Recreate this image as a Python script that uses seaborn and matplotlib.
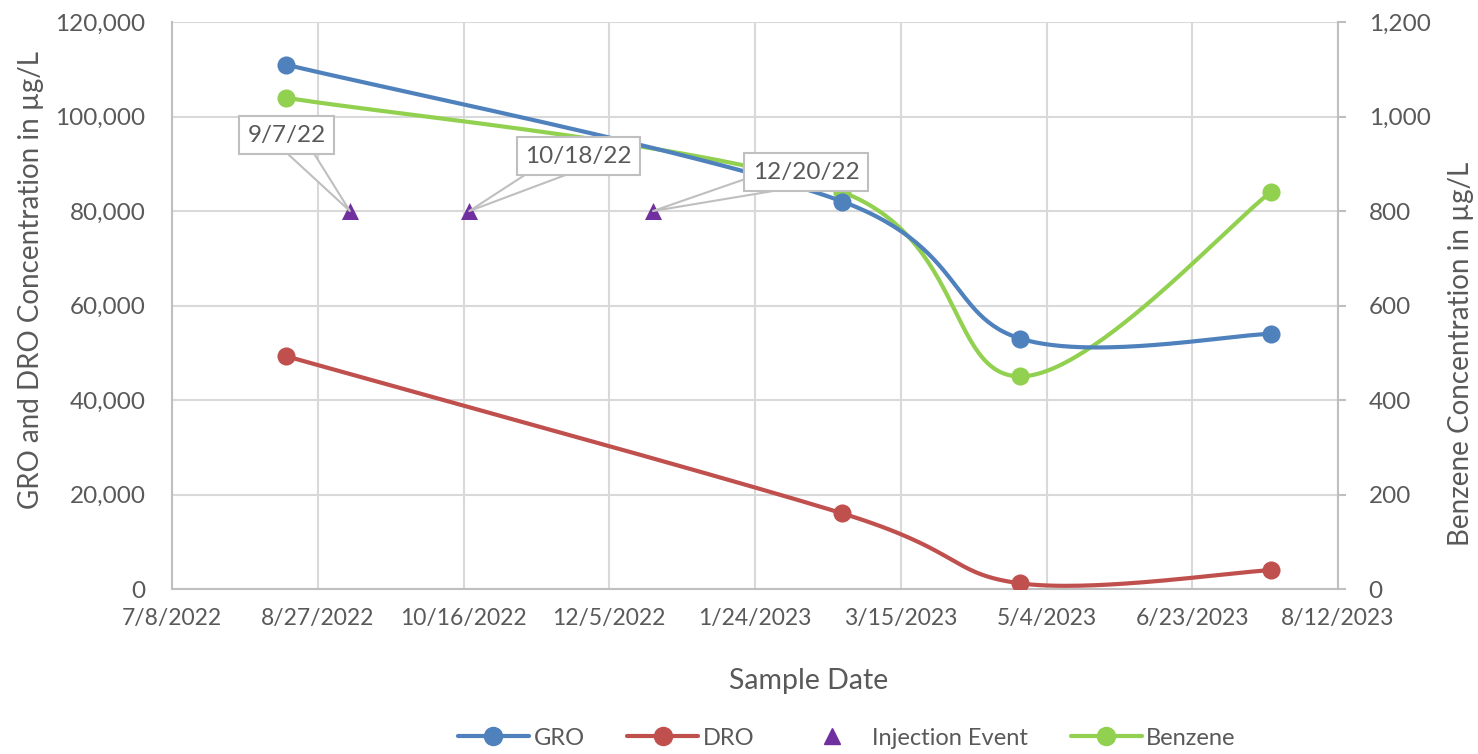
import numpy as np
import pandas as pd
import matplotlib
matplotlib.use("Agg")
import matplotlib.pyplot as plt
import matplotlib.dates as mdates
from matplotlib.ticker import FuncFormatter, FixedLocator
from matplotlib.lines import Line2D
import seaborn as sns

# ---- data ----
sample_dates = ["2022-08-16", "2023-02-23", "2023-04-25", "2023-07-20"]
gro = [111000, 82000, 53000, 54000]
dro = [49300, 16000, 1200, 4000]
benzene = [1040, 840, 450, 840]

injection_dates = ["2022-09-07", "2022-10-18", "2022-12-20"]
injection_level = [80000, 80000, 80000]
injection_labels = ["9/7/22", "10/18/22", "12/20/22"]

tick_dates = pd.date_range("2022-07-08", periods=9, freq="50D")

# ---- style ----
sns.set_theme(style="white")
plt.rcParams["font.family"] = ["Lato", "DejaVu Sans"]

C_GRO = "#4F81BD"
C_DRO = "#C0504D"
C_BNZ = "#92D050"
C_INJ = "#7030A0"
TXT = "#595959"
GRID = "#d9d9d9"
AXIS = "#bfbfbf"

x_samples = mdates.date2num(pd.to_datetime(sample_dates).to_pydatetime())
x_inj = mdates.date2num(pd.to_datetime(injection_dates).to_pydatetime())
x_ticks = mdates.date2num(tick_dates.to_pydatetime())

fig = plt.figure(figsize=(14.78, 7.54), dpi=100)
fig.subplots_adjust(left=0.1164, right=0.9053, top=0.9708, bottom=0.2188)
ax = fig.add_subplot(111)
ax2 = ax.twinx()

# GRO/DRO axis sits above the benzene axis; the benzene axis carries the grid
ax.set_zorder(ax2.get_zorder() + 1)
ax.patch.set_visible(False)

ax.set_xlim(x_ticks[0], x_ticks[-1])
ax.set_ylim(0, 120000)
ax2.set_ylim(0, 1200)


def smooth_curve(axis, xs, ys, n=60):
    """Cubic Bezier smoothing (Catmull-Rom style) computed in display space."""
    pts = axis.transData.transform(np.column_stack([xs, ys]))
    P = np.vstack([pts[0], pts, pts[-1]])
    segs = []
    t = np.linspace(0, 1, n)[:, None]
    for i in range(1, len(P) - 2):
        p0, p1, p2, p3 = P[i - 1], P[i], P[i + 1], P[i + 2]
        c1 = p1 + (p2 - p0) / 6.0
        c2 = p2 - (p3 - p1) / 6.0
        seg = ((1 - t) ** 3) * p1 + 3 * ((1 - t) ** 2) * t * c1 \
            + 3 * (1 - t) * (t ** 2) * c2 + (t ** 3) * p2
        segs.append(seg if i == 1 else seg[1:])
    curve = np.vstack(segs)
    out = axis.transData.inverted().transform(curve)
    return out[:, 0], out[:, 1]


LW = 3.0
MS = 170

# primary axis series
for vals, col in [(gro, C_GRO), (dro, C_DRO)]:
    cx, cy = smooth_curve(ax, x_samples, vals)
    sns.lineplot(x=cx, y=cy, sort=False, estimator=None, color=col,
                 linewidth=LW, ax=ax, zorder=3, legend=False)
    sns.scatterplot(x=x_samples, y=vals, color=col, s=MS, linewidth=0,
                    ax=ax, zorder=4, legend=False)

sns.scatterplot(x=x_inj, y=injection_level, marker="^", color=C_INJ, s=150,
                linewidth=0, ax=ax, zorder=4, legend=False)

# secondary axis series
cx, cy = smooth_curve(ax2, x_samples, benzene)
sns.lineplot(x=cx, y=cy, sort=False, estimator=None, color=C_BNZ,
             linewidth=LW, ax=ax2, zorder=3, legend=False)
sns.scatterplot(x=x_samples, y=benzene, color=C_BNZ, s=MS, linewidth=0,
                ax=ax2, zorder=4, legend=False)

# limits again (seaborn may autoscale)
ax.set_xlim(x_ticks[0], x_ticks[-1])
ax.set_ylim(0, 120000)
ax2.set_ylim(0, 1200)

# ticks & grid
ax.xaxis.set_major_locator(FixedLocator(x_ticks))
ax.xaxis.set_major_formatter(FuncFormatter(
    lambda v, p: (lambda d: f"{d.month}/{d.day}/{d.year}")(mdates.num2date(v))))
ax.set_yticks(np.arange(0, 120001, 20000))
ax.yaxis.set_major_formatter(FuncFormatter(lambda v, p: f"{int(v):,}"))
ax2.set_yticks(np.arange(0, 1201, 200))
ax2.yaxis.set_major_formatter(FuncFormatter(lambda v, p: f"{int(v):,}"))

ax.grid(False)
ax2.xaxis.set_visible(True)
ax2.tick_params(axis="x", length=0, labelbottom=False, labeltop=False)
ax2.grid(True, axis="both", color=GRID, linewidth=1.5)
ax2.set_axisbelow(True)

ax.tick_params(axis="x", length=0, pad=14, labelsize=16.5, labelcolor=TXT)
ax.tick_params(axis="y", length=0, pad=19, labelsize=17.5, labelcolor=TXT)
ax2.tick_params(axis="y", length=6, width=1.5, color=AXIS, direction="out",
                pad=16, labelsize=17.5, labelcolor=TXT)

for a in (ax, ax2):
    for s in a.spines.values():
        s.set_visible(False)
ax2.spines["right"].set_visible(True)
ax2.spines["right"].set_color(AXIS)
ax2.spines["right"].set_linewidth(1.5)
ax.spines["bottom"].set_visible(True)
ax.spines["bottom"].set_color(AXIS)
ax.spines["bottom"].set_linewidth(1.5)
ax.spines["left"].set_visible(True)
ax.spines["left"].set_color(AXIS)
ax.spines["left"].set_linewidth(1.5)

ax.set_xlabel("Sample Date", fontsize=20.5, color=TXT)
ax.xaxis.set_label_coords(0.546, -0.139)
ax.set_ylabel("GRO and DRO Concentration in µg/L", fontsize=20, color=TXT)
ax.yaxis.set_label_coords(-0.11, 0.545)
ax2.set_ylabel("Benzene Concentration in µg/L", fontsize=20, color=TXT,
               rotation=90)
ax2.yaxis.set_label_coords(1.094, 0.414)

# injection callouts
offsets = [(-63, 76), (109, 55), (153, 39)]
for xi, yi, lab, off in zip(x_inj, injection_level, injection_labels, offsets):
    ax.annotate(
        lab, xy=(xi, yi), xycoords="data",
        xytext=off, textcoords="offset pixels",
        ha="center", va="center", fontsize=17.5, color=TXT, zorder=10,
        bbox=dict(boxstyle="square,pad=0.35", fc="white", ec=AXIS, lw=1.5),
        arrowprops=dict(arrowstyle="wedge,tail_width=1.1",
                        fc="white", ec=AXIS, lw=1.5, patchA=None,
                        shrinkA=0, shrinkB=0),
    )

# legend
handles = [
    Line2D([], [], color=C_GRO, lw=LW, marker="o", markersize=13),
    Line2D([], [], color=C_DRO, lw=LW, marker="o", markersize=13),
    Line2D([], [], color=C_INJ, lw=0, marker="^", markersize=12),
    Line2D([], [], color=C_BNZ, lw=LW, marker="o", markersize=13),
]
fig.legend(handles, ["GRO", "DRO", "Injection Event", "Benzene"],
           loc="center", bbox_to_anchor=(0.573, 0.021), ncol=4, frameon=False,
           fontsize=17, handlelength=3.0, handletextpad=0.2, columnspacing=1.8,
           labelcolor=TXT)

fig.savefig("out.png", dpi=100)
